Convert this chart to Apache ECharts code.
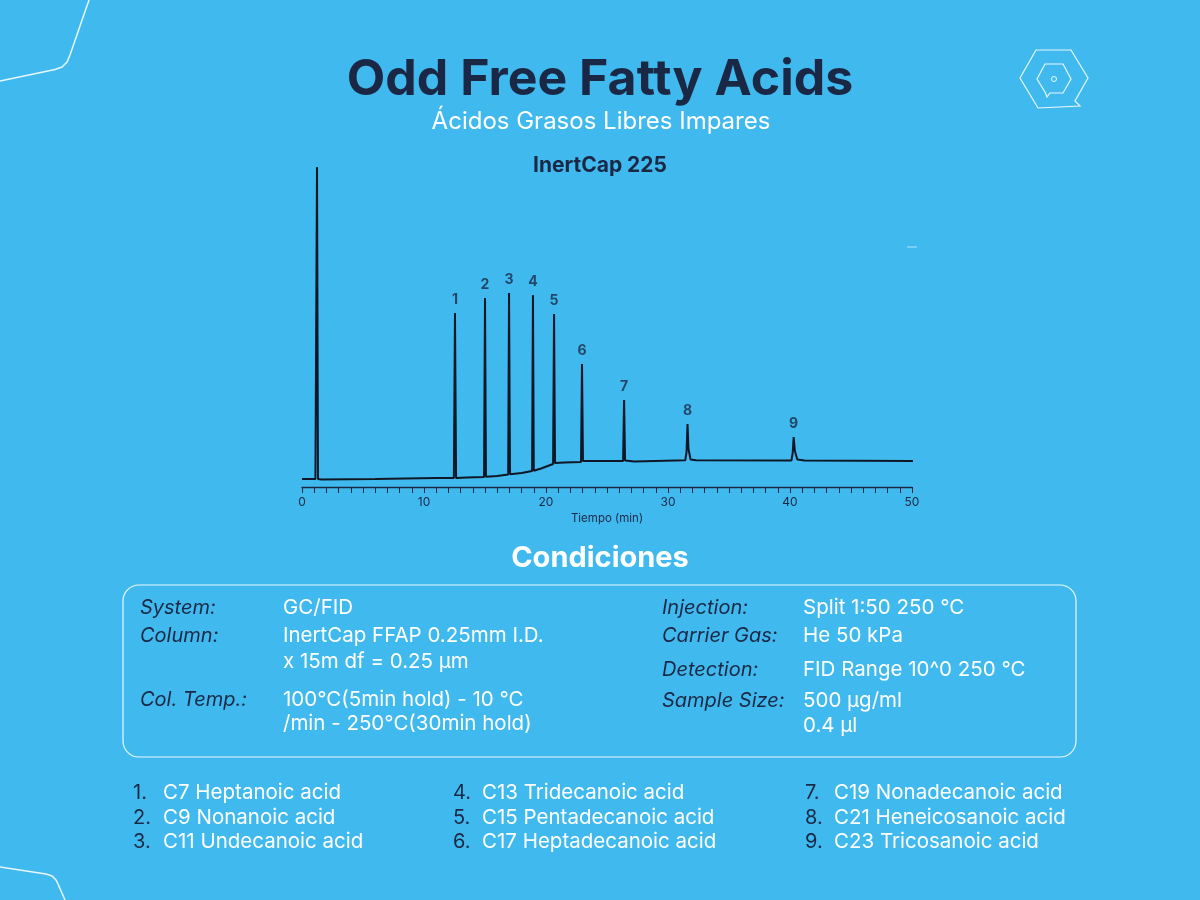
<!DOCTYPE html>
<html>
<head>
<meta charset="utf-8">
<title>Odd Free Fatty Acids</title>
<script src="https://cdn.jsdelivr.net/npm/echarts@6/dist/echarts.min.js"></script>
<style>
  html, body { margin: 0; padding: 0; background: #40baee; }
  #chart { width: 1200px; height: 900px; }
</style>
</head>
<body>
<div id="chart"></div>
<script>
// chromatogram trace [time (min), signal]
var trace = [
  [0, 0], [1.1, 0], [1.16, 1], [1.23, 312], [1.31, 0], [1.6, -0.5],
  [6, 0], [11, 1], [11.15, 2], [11.25, 1], [12.45, 1], [12.54, 166], [12.63, 1],
  [13.5, 1.5], [14.92, 2], [15.0, 181], [15.08, 2.3], [16.0, 3],
  [16.9, 4.5], [16.97, 186], [17.05, 4.7], [18.0, 6], [18.86, 8], [18.93, 184], [19.0, 8.3],
  [19.6, 10.5], [20.58, 15], [20.66, 165], [20.74, 16], [21.5, 16.5],
  [22.87, 17], [22.95, 115], [23.03, 18], [26.32, 18], [26.4, 79], [26.48, 18.5],
  [27.25, 17.5], [27.35, 18.8], [31.42, 18.8], [31.52, 27], [31.6, 55], [31.68, 30],
  [31.85, 19.5], [32.3, 18.8], [40.12, 18.5], [40.22, 26], [40.3, 42], [40.4, 28],
  [40.6, 19.5], [41.2, 18.5], [50.2, 18]
];

// peak labels
var peakNames = ['1', '2', '3', '4', '5', '6', '7', '8', '9'];
var peakTimes = [12.54, 15.0, 16.97, 18.93, 20.66, 22.95, 26.4, 31.6, 40.3];
var peakHeights = [166, 181, 186, 184, 165, 115, 79, 55, 42];

// conditions box
var condLeftLabels = ['System:', 'Column:', '', 'Col. Temp.:', ''];
var condLeftValues = ['GC/FID', 'InertCap FFAP 0.25mm I.D.', 'x 15m df = 0.25 \u00b5m',
  '100\u00b0C(5min hold) - 10 \u00b0C', '/min - 250\u00b0C(30min hold)'];
var condLeftRows = [608, 636, 662, 700, 724];
var condRightLabels = ['Injection:', 'Carrier Gas:', 'Detection:', 'Sample Size:', ''];
var condRightValues = ['Split 1:50 250 \u00b0C', 'He 50 kPa', 'FID Range 10^0 250 \u00b0C',
  '500 \u00b5g/ml', '0.4 \u00b5l'];
var condRightRows = [608, 636, 670, 701, 726];

// compound list
var compoundNumbers = ['1.', '2.', '3.', '4.', '5.', '6.', '7.', '8.', '9.'];
var compoundNames = ['C7 Heptanoic acid', 'C9 Nonanoic acid', 'C11 Undecanoic acid',
  'C13 Tridecanoic acid', 'C15 Pentadecanoic acid', 'C17 Heptadecanoic acid',
  'C19 Nonadecanoic acid', 'C21 Heneicosanoic acid', 'C23 Tricosanoic acid'];

var NAVY = '#1b2845';
var FONT = 'Inter, "Noto Sans", sans-serif';
var LINE = 'rgba(255,255,255,0.88)';
var myChart = echarts.init(document.getElementById('chart'));

var graphics = [];
function txt(s, x, y, size, color, weight, style, align) {
  graphics.push({
    type: 'text', silent: true,
    style: {
      text: s, x: x, y: y, fill: color, align: align || 'left', verticalAlign: 'middle',
      font: (style || 'normal') + ' ' + (weight || 'normal') + ' ' + size + 'px ' + FONT
    }
  });
}

// decorative corner lines
graphics.push({ type: 'polyline', silent: true,
  shape: { points: [[89, 0], [70, 55], [67, 62], [62, 67], [55, 69.5], [0, 81]] },
  style: { fill: null, stroke: LINE, lineWidth: 1.5 } });
graphics.push({ type: 'polyline', silent: true,
  shape: { points: [[0, 867], [46, 874], [52, 876], [56, 880], [58, 884], [65, 900]] },
  style: { fill: null, stroke: LINE, lineWidth: 1.5 } });
// logo
graphics.push({ type: 'polygon', silent: true,
  shape: { points: [[1036, 50], [1071, 50], [1088, 78], [1075, 101], [1080, 106], [1038, 108], [1020, 78]] },
  style: { fill: null, stroke: LINE, lineWidth: 1.2 } });
graphics.push({ type: 'polygon', silent: true,
  shape: { points: [[1045, 64], [1063, 64], [1071, 79], [1063, 93], [1050, 93], [1047, 97], [1045, 92], [1037, 79]] },
  style: { fill: null, stroke: LINE, lineWidth: 1.2 } });
graphics.push({ type: 'circle', silent: true, shape: { cx: 1054, cy: 79, r: 2.5 },
  style: { fill: null, stroke: LINE, lineWidth: 1 } });
graphics.push({ type: 'line', silent: true, shape: { x1: 907, y1: 247, x2: 917, y2: 247 },
  style: { stroke: 'rgba(255,255,255,0.6)', lineWidth: 1 } });

// headings
txt('Odd Free Fatty Acids', 600, 80, 50, NAVY, 'bold', 'normal', 'center');
txt('\u00c1cidos Grasos Libres Impares', 601, 122, 24, '#ffffff', 'normal', 'normal', 'center');
txt('InertCap 225', 600, 166, 21, NAVY, 'bold', 'normal', 'center');
txt('Condiciones', 600, 558, 29, '#ffffff', 'bold', 'normal', 'center');

// conditions box
graphics.push({ type: 'rect', silent: true, shape: { x: 123, y: 585, width: 953, height: 172, r: 16 },
  style: { fill: null, stroke: LINE, lineWidth: 1.2 } });
condLeftRows.forEach(function (y, i) {
  if (condLeftLabels[i]) txt(condLeftLabels[i], 140, y, 20, NAVY, 'normal', 'italic');
  txt(condLeftValues[i], 283, y, 20.5, '#ffffff');
});
condRightRows.forEach(function (y, i) {
  if (condRightLabels[i]) txt(condRightLabels[i], 662, y, 20, NAVY, 'normal', 'italic');
  txt(condRightValues[i], 803, y, 20.5, '#ffffff');
});

// compound list
var colNum = [133, 453, 805], colName = [163, 482, 834], rowY = [793, 818, 842];
compoundNames.forEach(function (name, i) {
  var c = Math.floor(i / 3), r = i % 3;
  txt(compoundNumbers[i], colNum[c], rowY[r], 20, NAVY);
  txt(name, colName[c], rowY[r], 20.5, '#ffffff');
});

var option = {
  backgroundColor: '#40baee',
  animation: false,
  grid: { left: 302, right: 288, top: 159, bottom: 413 },
  xAxis: {
    type: 'value', min: 0, max: 50, interval: 10,
    name: 'Tiempo (min)', nameLocation: 'middle', nameGap: 26,
    nameTextStyle: { color: NAVY, fontSize: 11.5, fontFamily: FONT },
    axisLine: { onZero: false, lineStyle: { color: NAVY, width: 1.3 } },
    axisTick: { show: true, length: 6, lineStyle: { color: NAVY, width: 1 } },
    minorTick: { show: true, splitNumber: 10, length: 6, lineStyle: { color: NAVY, width: 1 } },
    axisLabel: { color: NAVY, fontSize: 12, margin: 9, fontFamily: FONT },
    splitLine: { show: false }
  },
  yAxis: { type: 'value', min: -8, max: 320, show: false, splitLine: { show: false } },
  series: [
    {
      type: 'line', data: trace, showSymbol: false, symbol: 'none',
      lineStyle: { color: '#0e1726', width: 2 }, silent: true
    },
    {
      type: 'scatter', symbolSize: 0, silent: true,
      data: peakNames.map(function (n, i) { return { name: n, value: [peakTimes[i], peakHeights[i]] }; }),
      label: {
        show: true, position: 'top', distance: 6, formatter: '{b}',
        color: NAVY, fontSize: 14, fontWeight: 'bold', fontFamily: FONT
      }
    }
  ],
  graphic: graphics
};

myChart.setOption(option);
window.addEventListener('resize', function () {
  myChart.resize();
});
</script>
</body>
</html>
